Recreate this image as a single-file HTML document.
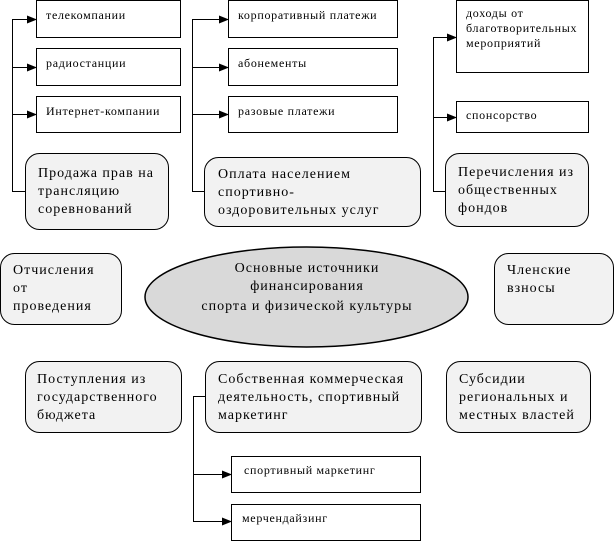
<!DOCTYPE html>
<html><head><meta charset="utf-8"><style>
html,body{margin:0;padding:0;background:#fff;}
svg{display:block;}
text{font-family:"Liberation Serif","DejaVu Serif",serif;fill:#000;}
.s{font-size:12px;letter-spacing:0.7px;}
.b{font-size:14px;letter-spacing:1px;}
</style></head><body>
<svg width="615" height="543" viewBox="0 0 615 543" xmlns="http://www.w3.org/2000/svg">
<defs><marker id="a" markerWidth="10" markerHeight="8" refX="9" refY="4" orient="auto" markerUnits="userSpaceOnUse"><path d="M0,0 L10,4 L0,8 Z" fill="#000"/></marker></defs>
<g fill="#fff" stroke="#000" stroke-width="1">
<rect x="36.5" y="0.5" width="144" height="37"/>
<rect x="36.5" y="48.5" width="144" height="37"/>
<rect x="36.5" y="96.5" width="144" height="36"/>
<rect x="228.5" y="0.5" width="169" height="37"/>
<rect x="228.5" y="48.5" width="169" height="37"/>
<rect x="228.5" y="96.5" width="169" height="36"/>
<rect x="456.5" y="0.5" width="132" height="72"/>
<rect x="456.5" y="101.5" width="132" height="31"/>
<rect x="231.5" y="456.5" width="189" height="36"/>
<rect x="231.5" y="504.5" width="189" height="36"/>
</g>
<g fill="#f2f2f2" stroke="#000" stroke-width="1">
<rect x="25.5" y="153.5" width="143" height="76" rx="14"/>
<rect x="204.5" y="157.5" width="216" height="69" rx="14"/>
<rect x="445.5" y="153.5" width="143" height="73" rx="14"/>
<rect x="0.5" y="253.5" width="121" height="71" rx="14"/>
<rect x="494.5" y="253.5" width="119" height="71" rx="14"/>
<rect x="25.5" y="361.5" width="156" height="71" rx="14"/>
<rect x="205.5" y="361.5" width="216" height="71" rx="14"/>
<rect x="446.5" y="361.5" width="144" height="71" rx="14"/>
</g>
<ellipse cx="306.5" cy="297" rx="161.5" ry="50" fill="#d9d9d9" stroke="#000" stroke-width="1.5"/>
<g stroke="#000" stroke-width="1" fill="none">
<path d="M25,191.5 H12.5 V19.5 H36" marker-end="url(#a)"/>
<path d="M12,67.5 H36" marker-end="url(#a)"/>
<path d="M12,114.5 H36" marker-end="url(#a)"/>
<path d="M204,191.5 H192.5 V19.5 H228" marker-end="url(#a)"/>
<path d="M192,67.5 H228" marker-end="url(#a)"/>
<path d="M192,114.5 H228" marker-end="url(#a)"/>
<path d="M445,191.5 H433.5 V37.5 H456" marker-end="url(#a)"/>
<path d="M433,117.5 H456" marker-end="url(#a)"/>
<path d="M205,396.5 H193.5 V521.5 H231" marker-end="url(#a)"/>
<path d="M193,474.5 H231" marker-end="url(#a)"/>
</g>
<g class="s">
<text x="46" y="19">телекомпании</text>
<text x="46" y="67">радиостанции</text>
<text x="46" y="115">Интернет-компании</text>
<text x="238" y="19">корпоративный платежи</text>
<text x="238" y="67">абонементы</text>
<text x="238" y="115">разовые платежи</text>
<text x="466" y="17">доходы от</text>
<text x="466" y="32">благотворительных</text>
<text x="466" y="47">мероприятий</text>
<text x="466" y="119">спонсорство</text>
<text x="244" y="474">спортивный маркетинг</text>
<text x="242" y="522">мерчендайзинг</text>
</g>
<g class="b">
<text x="38" y="177">Продажа прав на</text>
<text x="38" y="195">трансляцию</text>
<text x="38" y="213">соревнований</text>
<text x="218" y="178">Оплата населением</text>
<text x="218" y="196">спортивно-</text>
<text x="218" y="214">оздоровительных услуг</text>
<text x="458" y="176">Перечисления из</text>
<text x="458" y="194">общественных</text>
<text x="458" y="212">фондов</text>
<text x="13" y="274">Отчисления</text>
<text x="13" y="292">от</text>
<text x="13" y="310">проведения</text>
<text x="507" y="274">Членские</text>
<text x="507" y="292">взносы</text>
<text x="307" y="272" text-anchor="middle">Основные источники</text>
<text x="307" y="290" text-anchor="middle">финансирования</text>
<text x="307" y="310" text-anchor="middle">спорта и физической культуры</text>
<text x="37" y="383">Поступления из</text>
<text x="37" y="401">государственного</text>
<text x="37" y="419">бюджета</text>
<text x="218" y="383">Собственная коммерческая</text>
<text x="218" y="401">деятельность, спортивный</text>
<text x="218" y="419">маркетинг</text>
<text x="459" y="383">Субсидии</text>
<text x="459" y="401">региональных и</text>
<text x="459" y="419">местных властей</text>
</g>
</svg>
</body></html>
